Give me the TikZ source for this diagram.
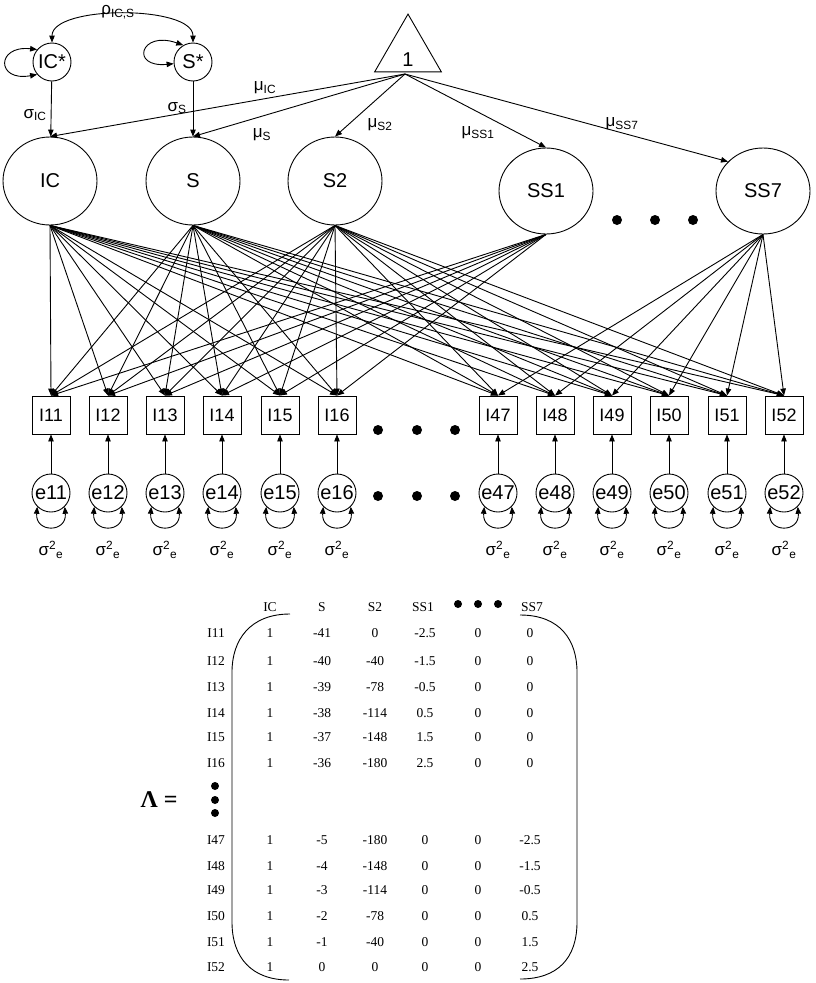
\documentclass[tikz,border=0pt]{standalone}
\usepackage{fontspec}
\setmainfont{Liberation Sans}
\newfontfamily\tms{Liberation Serif}
\usetikzlibrary{arrows.meta,shapes.geometric,calc}
\begin{document}
\begin{tikzpicture}[x=1pt,y=-1pt,line width=0.9pt,
  >={Triangle[length=7pt,width=5.5pt]},
  lat/.style={draw,ellipse,minimum width=94pt,minimum height=88pt,inner sep=0pt,font=\fontsize{20}{20}\selectfont},
  sm/.style={draw,circle,minimum size=38pt,inner sep=0pt,font=\fontsize{20}{20}\selectfont},
  itembox/.style={draw,rectangle,minimum size=38pt,inner sep=0pt,font=\fontsize{18}{18}\selectfont},
  lbl/.style={font=\fontsize{17}{17}\selectfont,inner sep=0pt},
  bigdot/.style={circle,fill,minimum size=10pt,inner sep=0pt},
  smalldot/.style={circle,fill,minimum size=8pt,inner sep=0pt},
  mt/.style={font=\tms\fontsize{13.5}{13.5}\selectfont,inner sep=0pt}]
\useasboundingbox (0,0) rectangle (815,983);

% top: latent factors
\node[sm] (ICs) at (52,62) {IC*};
\node[sm] (Ss) at (193,62) {S*};
\node[draw,regular polygon,regular polygon sides=3,minimum size=77pt,inner sep=0pt] (one) at (408,52.6) {};
\node[font=\fontsize{20}{20}\selectfont] (onelbl) at (408,60) {1};
\coordinate (ob) at (405,74);

\node[lat] (IC) at (50,181) {IC};
\node[lat] (S) at (193,181) {S};
\node[lat] (S2) at (335,181) {S2};
\node[lat,minimum height=86pt] (SS1) at (546,191) {SS1};
\node[lat,minimum height=86pt] (SS7) at (763,191) {SS7};
\node[bigdot] (d1) at (617,220) {};
\node[bigdot] (d2) at (655,220) {};
\node[bigdot] (d3) at (693,220) {};

\draw[<->] (ICs.north) .. controls (52,5) and (193,5) .. (Ss.north);
\node[lbl] (rho) at (118,12) {ρ\textsubscript{IC,S}};
\draw[<->] (ICs.140) .. controls (-4,45) and (-4,82) .. (ICs.220);
\draw[<->] (Ss.120) .. controls (140,30) and (130,68) .. (Ss.185);

\draw[->] (ICs) -- (IC);
\draw[->] (Ss) -- (S);
\node[lbl] (sIC) at (35,115) {σ\textsubscript{IC}};
\node[lbl] (sS) at (177,108) {σ\textsubscript{S}};

\draw[->] (ob) -- (IC.north);
\draw[->] (ob) -- (S.north);
\draw[->] (ob) -- (S2.north);
\draw[->] (ob) -- (SS1.north);
\draw[->] (ob) -- (SS7.140);
\node[lbl] (mIC) at (265,88) {μ\textsubscript{IC}};
\node[lbl] (mS) at (262,135) {μ\textsubscript{S}};
\node[lbl] (mS2) at (380,125) {μ\textsubscript{S2}};
\node[lbl] (mSS1) at (478,133) {μ\textsubscript{SS1}};
\node[lbl] (mSS7) at (622,124) {μ\textsubscript{SS7}};

% items and residuals
\foreach \n/\x in {11/51,12/108,13/165,14/222,15/280,16/337,47/498,48/555,49/612,50/669,51/727,52/784} {
  \node[itembox] (I\n) at (\x,415) {I\n};
  \node[sm] (e\n) at (\x,493) {e\n};
  \draw[->] (e\n) -- (I\n);
  \draw[<->] (e\n.225) .. controls ($(e\n)+(-16,40)$) and ($(e\n)+(16,40)$) .. (e\n.315);
  \node[lbl] (v\n) at (\x,550) {σ\textsuperscript{2}\textsubscript{e}};
}
\foreach \x [count=\i] in {378,417,455} {
  \node[bigdot] (da\i) at (\x,430) {};
  \node[bigdot] (db\i) at (\x,496) {};
}

% loadings
\foreach \f in {IC,S,S2} {
  \foreach \n in {11,12,13,14,15,16,47,48,49,50,51,52} {
    \draw[->] (\f.south) -- (I\n.north);
  }
}
\foreach \n in {11,12,13,14,15,16} { \draw[->] (SS1.south) -- (I\n.north); }
\foreach \n in {47,48,49,50,51,52} { \draw[->] (SS7.south) -- (I\n.north); }

% Lambda matrix
\node[font=\tms\bfseries\fontsize{24}{24}\selectfont,inner sep=0pt] (Lam) at (159,800) {Λ =};
\foreach \y [count=\i] in {786,800,813} { \node[smalldot] (vd\i) at (215,\y) {}; }
\foreach \t/\x in {IC/270,S/322,S2/375,SS1/423,SS7/532} { \node[mt] (h\t) at (\x,607) {\t}; }
\foreach \x [count=\i] in {458,478,498} { \node[smalldot] (hd\i) at (\x,604) {}; }

\foreach \lab/\y/\a/\b/\c/\d/\e/\f in {
  I11/633/1/-41/0/-2.5/0/0,
  I12/661/1/-40/-40/-1.5/0/0,
  I13/687/1/-39/-78/-0.5/0/0,
  I14/713/1/-38/-114/0.5/0/0,
  I15/737/1/-37/-148/1.5/0/0,
  I16/763/1/-36/-180/2.5/0/0,
  I47/840/1/-5/-180/0/0/-2.5,
  I48/866/1/-4/-148/0/0/-1.5,
  I49/890/1/-3/-114/0/0/-0.5,
  I50/916/1/-2/-78/0/0/0.5,
  I51/942/1/-1/-40/0/0/1.5,
  I52/967/1/0/0/0/0/2.5} {
  \node[mt] (r\lab) at (216,\y) {\lab};
  \node[mt] (c1\lab) at (270,\y) {\a};
  \node[mt] (c2\lab) at (322,\y) {\b};
  \node[mt] (c3\lab) at (375,\y) {\c};
  \node[mt] (c4\lab) at (425,\y) {\d};
  \node[mt] (c5\lab) at (478,\y) {\e};
  \node[mt] (c6\lab) at (530,\y) {\f};
}
\draw (290,614) .. controls (250,614) and (232,640) .. (232,672) -- (232,922) .. controls (232,958) and (252,980) .. (289,980);
\draw (520,615) .. controls (560,615) and (577,640) .. (577,672) -- (577,922) .. controls (577,958) and (558,979) .. (520,979);
\end{tikzpicture}
\end{document}
